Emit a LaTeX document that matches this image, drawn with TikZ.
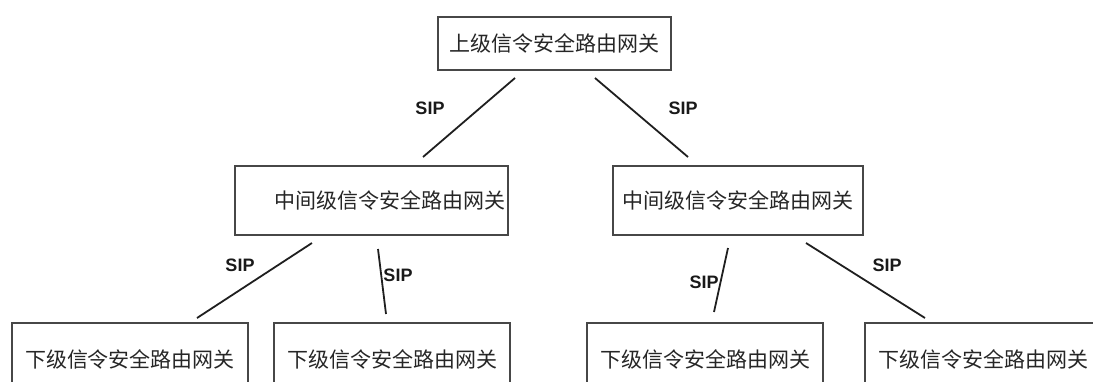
\documentclass[tikz,border=0pt]{standalone}
\usepackage{fontspec}
\setmainfont{Liberation Sans}
\newfontfamily\cjk{Noto Sans CJK SC}
\begin{document}
\begin{tikzpicture}[x=1pt,y=-1pt,
  box/.style={draw=black!72, line width=1.6pt, inner sep=0pt, text=black!85,
    font=\cjk\fontsize{21}{21}\selectfont},
  link/.style={line width=1.8pt, draw=black!88},
  sip/.style={font=\bfseries\fontsize{18}{18}\selectfont, inner sep=0pt, text=black!90}]
\useasboundingbox (0,0) rectangle (1093,381);
\clip (0,0) rectangle (1093,381);
% boxes
\node[box, minimum width=233pt, minimum height=53pt] (top) at (554.5,43.5) {上级信令安全路由网关};
\node[box, minimum width=273pt, minimum height=69pt, text width=267pt, align=right] (midL) at (371.5,200.5) {中间级信令安全路由网关};
\node[box, minimum width=250pt, minimum height=69pt] (midR) at (738,200.5) {中间级信令安全路由网关};
\node[box, minimum width=236pt, minimum height=72pt] (b1) at (130,359) {下级信令安全路由网关};
\node[box, minimum width=236pt, minimum height=72pt] (b2) at (392,359) {下级信令安全路由网关};
\node[box, minimum width=236pt, minimum height=72pt] (b3) at (705,359) {下级信令安全路由网关};
\node[box, minimum width=236pt, minimum height=72pt] (b4) at (983,359) {下级信令安全路由网关};
% connector ends
\coordinate (t1a) at (515,78);  \coordinate (t1b) at (423,157);
\coordinate (t2a) at (595,78);  \coordinate (t2b) at (688,157);
\coordinate (l1a) at (312,243); \coordinate (l1b) at (197,318);
\coordinate (l2a) at (378,249); \coordinate (l2b) at (386,314);
\coordinate (r1a) at (728,248); \coordinate (r1b) at (714,312);
\coordinate (r2a) at (806,243); \coordinate (r2b) at (925,318);
\draw[link] (t1a) -- (t1b);
\draw[link] (t2a) -- (t2b);
\draw[link] (l1a) -- (l1b);
\draw[link] (l2a) -- (l2b);
\draw[link] (r1a) -- (r1b);
\draw[link] (r2a) -- (r2b);
% labels
\node[sip] (s1) at (430,108) {SIP};
\node[sip] (s2) at (683,108) {SIP};
\node[sip] (s3) at (240,265) {SIP};
\node[sip] (s4) at (398,275) {SIP};
\node[sip] (s5) at (704,282) {SIP};
\node[sip] (s6) at (887,265) {SIP};
\end{tikzpicture}
\end{document}
